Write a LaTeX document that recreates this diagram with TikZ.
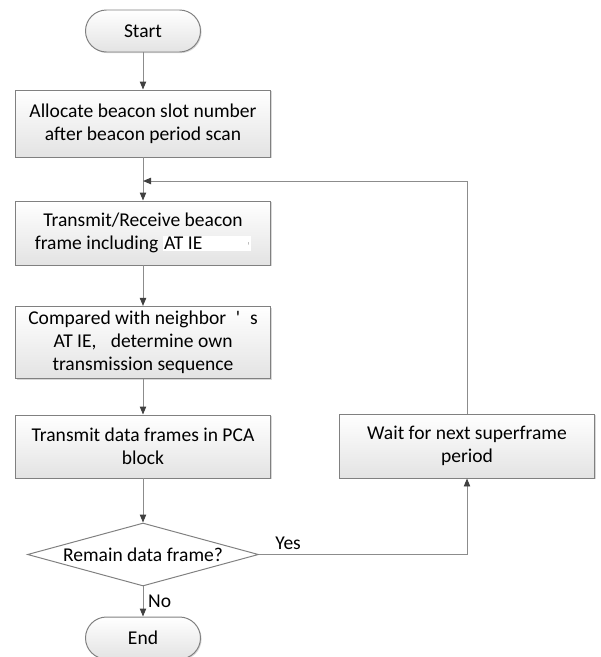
\documentclass[tikz,border=0pt]{standalone}
\usepackage{fontspec}
\setmainfont{Carlito}
\usetikzlibrary{shapes.geometric,arrows.meta,shadows}

\tikzset{
  base/.style={draw=black!50, line width=0.7pt, top color=white, bottom color=black!11,
    align=center, font=\fontsize{13.9}{16.4}\selectfont,
    drop shadow={shadow xshift=0.8pt, shadow yshift=-0.8pt, fill=black!30, opacity=0.5}},
  proc/.style={base, minimum width=6.375cm},
  term/.style={base, rounded corners=0.525cm, minimum width=2.875cm, minimum height=1.05cm},
  decide/.style={diamond, aspect=3.67, inner sep=0pt, minimum width=5.775cm, minimum height=1.575cm,
    draw=black!50, line width=0.7pt, fill=white, font=\fontsize{13.9}{16.4}\selectfont},
  flow/.style={draw=black!45, line width=0.7pt, -{Triangle[length=2mm, width=1.6mm, color=black!75]}},
  lbl/.style={font=\fontsize{13.9}{16.4}\selectfont}
}

\begin{document}
\begin{tikzpicture}
  \useasboundingbox (0,0) rectangle (15,-16.425);

  % main column
  \node[term] (start) at (3.575,-0.775) {Start};
  \node[proc, minimum height=1.675cm] (alloc) at (3.575,-3.0875)
    {Allocate beacon slot number\\after beacon period scan};
  \node[proc, minimum height=1.6cm] (trx) at (3.575,-5.825)
    {Transmit/Receive beacon\\frame including\ \setlength{\fboxsep}{1pt}\colorbox{white}{AT IE\hspace{2.3em}\textcolor{black!40}{\scriptsize'}}};
  \node[proc, minimum height=1.775cm] (cmp) at (3.575,-8.5625)
    {Compared with neighbor\enspace\textquotesingle\enspace s\\AT IE,\enspace\ determine own\\transmission sequence};
  \node[proc, minimum height=1.575cm] (send) at (3.575,-11.1625)
    {Transmit data frames in PCA\\block};
  \node[decide] (remain) at (3.575,-13.8625) {Remain data frame?};
  \node[term] (end) at (3.575,-15.95) {End};

  % right side
  \node[proc, minimum height=1.6cm] (wait) at (11.675,-11.15)
    {Wait for next superframe\\period};
  \coordinate (join) at (3.575,-4.525);

  % connectors
  \draw[flow] (start) -- (alloc);
  \draw[flow] (alloc) -- (trx);
  \draw[flow] (trx) -- (cmp);
  \draw[flow] (cmp) -- (send);
  \draw[flow] (send) -- (remain);
  \draw[flow] (remain) -- node[lbl, right] {No} (end);
  \draw[flow] (remain.east) -| node[lbl, pos=0.07, above] {Yes} (wait.south);
  \draw[flow] (wait.north) |- (join);
\end{tikzpicture}
\end{document}
